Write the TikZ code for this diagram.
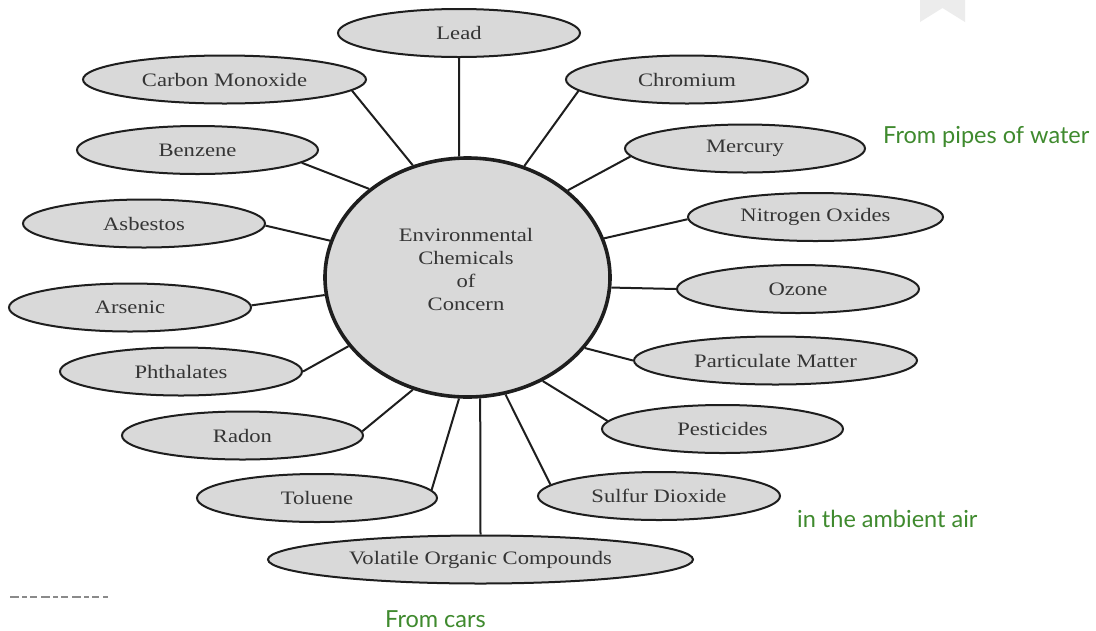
\documentclass[tikz,border=0pt]{standalone}
\usepackage{fontspec}
\setmainfont{Liberation Serif}
% Serif labels, widened to the proportions of the artwork
\newfontfamily\labelfont[FakeStretch=1.19]{Liberation Serif}
% Sans serif for the green annotations
\newfontfamily\notefont{Lato}
\usetikzlibrary{shapes.geometric}

\definecolor{bubblefill}{HTML}{D9D9D9}
\definecolor{bubbleline}{HTML}{1E1E1E}
\definecolor{bubbletext}{HTML}{353535}
\definecolor{notegreen}{HTML}{3F8A2E}
\definecolor{markgray}{HTML}{ECECEC}
\definecolor{fragmentgray}{HTML}{8A8A8A}

\begin{document}
\begin{tikzpicture}[x=1pt,y=-1pt,
  chem/.style={ellipse, draw=bubbleline, line width=2pt, fill=bubblefill,
    minimum height=48pt, minimum width=242pt, inner sep=0pt,
    font=\labelfont\fontsize{19}{23}\selectfont, text=bubbletext},
  hubshape/.style={ellipse, draw=bubbleline, line width=3.6pt, fill=bubblefill,
    minimum width=285pt, minimum height=239pt, inner sep=0pt},
  hublabel/.style={align=center, inner sep=0pt,
    font=\labelfont\fontsize{19}{23}\selectfont, text=bubbletext},
  link/.style={draw=bubbleline, line width=2pt},
  note/.style={font=\notefont\fontsize{23.5}{26}\selectfont, text=notegreen, inner sep=0pt}]

\fill[white] (0,0) rectangle (1096,630);
\useasboundingbox (0,0) rectangle (1096,630);

% bookmark mark in the top right corner
\fill[markgray] (920,0) -- (965,0) -- (965,22) -- (942.5,8) -- (920,22) -- cycle;

% cropped caption fragment
\draw[fragmentgray, line width=1.5pt, dash pattern=on 9pt off 3pt on 5pt off 3pt on 7pt off 4pt]
  (10,597) -- (108,597);

% central bubble
\node[hubshape] (hub) at (467.5,277.5) {};
\node[hublabel] (hubtext) at (466,269) {Environmental\\Chemicals\\of\\Concern};

% surrounding chemicals
\node[chem] (lead)       at (459,33)      {Lead};
\node[chem, minimum width=283pt] (co) at (224.5,79.5) {Carbon Monoxide};
\node[chem] (chromium)   at (687,79.5)    {Chromium};
\node[chem, minimum width=241pt] (benzene) at (197.5,150) {Benzene};
\node[chem, minimum width=240pt] (mercury) at (745,148.5) {Mercury};
\node[chem] (asbestos)   at (144,223.5)   {Asbestos};
\node[chem, minimum width=255pt] (nox) at (815.5,217) {Nitrogen Oxides};
\node[chem] (arsenic)    at (130,307.5)   {Arsenic};
\node[chem] (ozone)      at (798,289)     {Ozone};
\node[chem] (phthalates) at (181,371.5)   {Phthalates};
\node[chem, minimum width=283pt] (pm) at (775.5,360.5) {Particulate Matter};
\node[chem, minimum width=241pt] (radon) at (242.5,435.5) {Radon};
\node[chem, minimum width=241pt] (pesticides) at (722.5,429) {Pesticides};
\node[chem, minimum width=240pt] (toluene) at (317,498) {Toluene};
\node[chem, minimum width=425pt] (voc) at (480.5,559.5) {Volatile Organic Compounds};
\node[chem] (so2)        at (659,496)     {Sulfur Dioxide};

% spokes
\draw[link] (lead.south)      -- (hub.94);
\draw[link] (co.-5.6)         -- (hub.116);
\draw[link] (chromium.186.8)  -- (hub.63);
\draw[link] (benzene.-7.6)    -- (hub.138);
\draw[link] (mercury.184.8)   -- (hub.41);
\draw[link] (asbestos.-1.7)   -- (hub.165);
\draw[link] (nox.181)         -- (hub.16.3);
\draw[link] (arsenic.1)       -- (hub.187.8);
\draw[link] (ozone.west)      -- (hub.-4.6);
\draw[link] (phthalates.east) -- (hub.210.5);
\draw[link] (pm.west)         -- (hub.-31);
\draw[link] (radon.2.6)       -- (hub.244);
\draw[link] (pesticides.176.5) -- (hub.-54.2);
\draw[link] (toluene.4.4)     -- (hub.266.5);
\draw[link] (voc.north)       -- (hub.276.4);
\draw[link] (so2.174.5)       -- (hub.-72.6);

% annotations
\node[note, anchor=west] (pipes)   at (883,137) {From pipes of water};
\node[note, anchor=west] (ambient) at (797,519) {in the ambient air};
\node[note, anchor=base west] (cars) at (385,627) {From cars};
\end{tikzpicture}
\end{document}
